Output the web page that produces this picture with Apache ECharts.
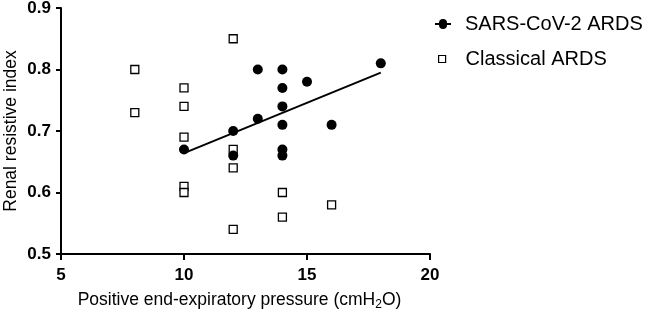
<!DOCTYPE html>
<html>
<head>
<meta charset="utf-8">
<script src="https://cdn.jsdelivr.net/npm/echarts@6/dist/echarts.min.js"></script>
<style>
  html, body { margin: 0; padding: 0; background: #fff; }
  #chart { width: 645px; height: 313px; }
</style>
</head>
<body>
<div id="chart"></div>
<script>
  // SARS-CoV-2 ARDS (filled circles)
  var covidPeep = [10, 12, 12, 13, 13, 14, 14, 14, 14, 14, 14, 15, 16, 18]
  var covidRri = [0.67, 0.70, 0.66, 0.80, 0.72, 0.80, 0.77, 0.74, 0.71, 0.67, 0.66, 0.78, 0.71, 0.81]
  // Classical ARDS (open squares)
  var classicPeep = [8, 8, 10, 10, 10, 10, 10, 12, 12, 12, 12, 14, 14, 16]
  var classicRri = [0.80, 0.73, 0.77, 0.74, 0.69, 0.61, 0.60, 0.85, 0.67, 0.64, 0.54, 0.60, 0.56, 0.58]
  // regression line of the covid group, ends
  var fitPeep = [10, 18]
  var fitRri = [0.664, 0.795]
  var xTicks = [5, 10, 15, 20]
  var yTicks = [0.5, 0.6, 0.7, 0.8, 0.9]

  var font = 'Liberation Sans, Arial, Helvetica, sans-serif'
  function pairs (xs, ys) {
    var out = []
    for (var i = 0; i < xs.length; i++) {
      out.push([xs[i], ys[i]])
    }
    return out
  }

  var chart = echarts.init(document.getElementById('chart'))
  var option = {
    animation: false,
    textStyle: { fontFamily: font },
    grid: { left: 61, right: 215, top: 8, bottom: 59, outerBoundsMode: 'none', containLabel: false },
    legend: [{
      left: 430,
      top: 9,
      itemWidth: 16,
      itemHeight: 10,
      data: [{
        name: 'SARS-CoV-2 ARDS',
        icon: 'path://M0,5 L4,5 A4,4 0 0 1 12,5 L16,5 L16,7 L12,7 A4,4 0 0 1 4,7 L0,7 Z',
        itemStyle: { color: '#000', borderWidth: 0, opacity: 1 },
      }],
      textStyle: { color: '#000', fontSize: 20, fontFamily: font, padding: [0, 0, 0, 9] },
    }, {
      left: 433,
      top: 44,
      itemWidth: 7,
      itemHeight: 7,
      data: [{
        name: 'Classical ARDS',
        icon: 'rect',
        itemStyle: { color: '#fff', borderColor: '#000', borderWidth: 1.2 },
      }],
      textStyle: { color: '#000', fontSize: 20, fontFamily: font, padding: [0, 0, 0, 15] },
    }],
    xAxis: {
      type: 'value',
      min: xTicks[0],
      max: xTicks[xTicks.length - 1],
      interval: 5,
      name: 'Positive end-expiratory pressure (cmH{sub|2}O)',
      nameLocation: 'middle',
      nameGap: 36,
      nameMoveOverlap: false,
      nameTextStyle: {
        color: '#000',
        fontSize: 17.5,
        fontFamily: font,
        padding: [0, 12, 0, 0],
        rich: {
          sub: { fontSize: 12, fontFamily: font, color: '#000', padding: [9, 0, 0, 0] },
        },
      },
      axisLine: { lineStyle: { color: '#000', width: 2 } },
      axisTick: { length: 6, lineStyle: { color: '#000', width: 2 } },
      axisLabel: { color: '#000', fontSize: 17, fontWeight: 'bold', fontFamily: font, margin: 13 },
      splitLine: { show: false },
    },
    yAxis: {
      type: 'value',
      min: yTicks[0],
      max: yTicks[yTicks.length - 1],
      interval: 0.1,
      name: 'Renal resistive index',
      nameLocation: 'middle',
      nameGap: 41,
      nameMoveOverlap: false,
      nameTextStyle: { color: '#000', fontSize: 17.5, fontFamily: font },
      axisLine: { lineStyle: { color: '#000', width: 2 } },
      axisTick: { length: 5, lineStyle: { color: '#000', width: 2 } },
      axisLabel: {
        color: '#000', fontSize: 17, fontWeight: 'bold', fontFamily: font, margin: 10,
        formatter: function (v) { return v.toFixed(1) },
      },
      splitLine: { show: false },
    },
    series: [{
      name: 'fit',
      type: 'line',
      data: pairs(fitPeep, fitRri),
      symbol: 'none',
      lineStyle: { color: '#000', width: 2 },
      z: 2,
    }, {
      name: 'Classical ARDS',
      type: 'scatter',
      data: pairs(classicPeep, classicRri),
      symbol: 'rect',
      symbolSize: 8,
      itemStyle: { color: '#fff', borderColor: '#000', borderWidth: 1.3, opacity: 1 },
      z: 3,
    }, {
      name: 'SARS-CoV-2 ARDS',
      type: 'scatter',
      data: pairs(covidPeep, covidRri),
      symbol: 'circle',
      symbolSize: 10,
      itemStyle: { color: '#000', opacity: 1 },
      z: 4,
    }],
  }
  chart.setOption(option)
</script>
</body>
</html>
